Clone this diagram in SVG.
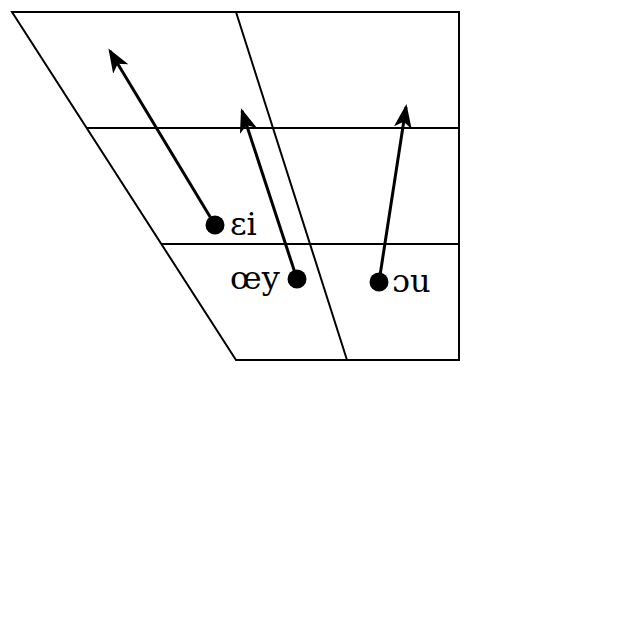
<svg xmlns="http://www.w3.org/2000/svg" width="640" height="640" viewBox="0 0 640 640">
<style>
.grid{fill:none;stroke:#000;stroke-width:2}
.arr{fill:none;stroke:#000;stroke-width:3;marker-end:url(#ah)}
.lbl{font-family:"DejaVu Serif",serif;font-size:32px;fill:#000}
</style>
<defs>
<marker id="ah" markerWidth="8" markerHeight="6" refX="7" refY="3" orient="auto" markerUnits="strokeWidth">
<path d="M0,0 L8,3 L0,6 L2,3 Z" fill="#000"/>
</marker>
</defs>
<rect width="640" height="640" fill="#fff"/>
<g id="chart">
<path class="grid" d="M12,12 L459,12 L459,360 L236,360 Z"/>
<path class="grid" d="M87,128 L459,128 M161,244 L459,244 M236,12 L347,360"/>
</g>
<g id="connectors">
<line class="arr" x1="215" y1="225" x2="110" y2="51"/>
<line class="arr" x1="297" y1="279" x2="242" y2="111"/>
<line class="arr" x1="379" y1="282" x2="406" y2="107"/>
</g>
<g id="ei"><circle cx="215" cy="225" r="9.5"/><text class="lbl" x="230" y="235">ɛi</text></g>
<g id="oey"><circle cx="297" cy="279" r="9.5"/><text class="lbl" x="230" y="289">œy</text></g>
<g id="ou"><circle cx="379" cy="282" r="9.5"/><text class="lbl" x="392" y="292">ɔu</text></g>
</svg>
